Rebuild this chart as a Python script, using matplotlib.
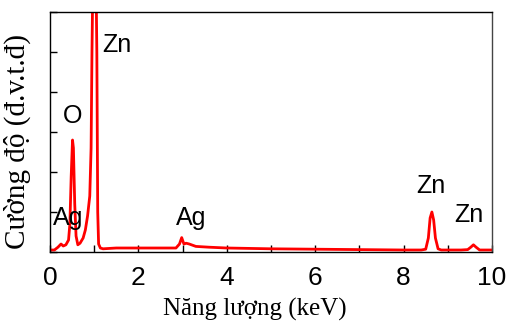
#! /usr/bin/env python3

from matplotlib import pyplot as plt
from matplotlib.ticker import MultipleLocator, NullFormatter

# EDX spectrum (energy in keV, intensity in arb. units)
energy = [0.0, 0.1, 0.18, 0.25, 0.3, 0.36, 0.42, 0.45, 0.48, 0.51, 0.53, 0.56,
          0.59, 0.63, 0.68, 0.75, 0.8, 0.85, 0.9, 0.93, 0.95, 0.97, 1.0, 1.04,
          1.06, 1.08, 1.1, 1.14, 1.2, 1.5, 2.0, 2.5, 2.85, 2.93, 2.98, 3.03,
          3.08, 3.15, 3.3, 3.6, 4.0, 5.0, 6.0, 7.0, 8.0, 8.4, 8.5, 8.56, 8.6,
          8.64, 8.68, 8.72, 8.78, 8.85, 9.0, 9.3, 9.45, 9.52, 9.58, 9.64,
          9.72, 9.85, 10.0]
intensity = [0.05, 0.05, 0.12, 0.2, 0.15, 0.18, 0.3, 0.7, 1.9, 2.8, 2.6, 1.2,
             0.4, 0.18, 0.22, 0.35, 0.55, 0.9, 1.4, 2.6, 5.0, 6.8, 8.0, 7.0,
             5.0, 1.0, 0.2, 0.1, 0.08, 0.1, 0.1, 0.1, 0.1, 0.2, 0.36, 0.2,
             0.22, 0.2, 0.14, 0.12, 0.1, 0.08, 0.07, 0.06, 0.05, 0.05, 0.07,
             0.35, 0.85, 1.0, 0.8, 0.35, 0.08, 0.05, 0.05, 0.05, 0.06, 0.12,
             0.18, 0.12, 0.05, 0.05, 0.05]

# element labels: text, x (keV), y (baseline)
peak_labels = ['Zn', 'O', 'Ag', 'Ag', 'Zn', 'Zn']
label_x = [1.18, 0.29, 0.07, 2.85, 8.28, 9.14]
label_y = [5.0, 3.22, 0.68, 0.68, 1.47, 0.75]

sans = 'Liberation Sans'
serif = 'Liberation Serif'

fig = plt.figure(figsize=(5.09, 3.23), dpi=100)
ax = fig.add_axes([0.0982, 0.2198, 0.8684, 0.743])

ax.plot(energy, intensity, color='#ff0000', lw=2)

for t, x, y in zip(peak_labels, label_x, label_y):
    ax.text(x, y, t, family=sans, fontsize=18, ha='left', va='baseline')

ax.set_xlim(0, 10)
ax.set_ylim(0, 6)

ax.xaxis.set_major_locator(MultipleLocator(1))
ax.xaxis.set_major_formatter(NullFormatter())
ax.yaxis.set_major_locator(MultipleLocator(1))
ax.yaxis.set_major_formatter(NullFormatter())
ax.tick_params(direction='in', length=5, width=1, top=False, right=False)

# labelled ticks at even values, drawn as text so the odd ticks stay bare
for v in range(0, 11, 2):
    ax.text(v, -0.36, str(v), family=sans, fontsize=19, ha='center', va='top')

for s in ax.spines.values():
    s.set_linewidth(1)
    s.set_color('black')
ax.spines['right'].set_color('#444444')

fig.text(0.5, 0.024, 'Năng lượng (keV)', family=serif, fontsize=18,
         ha='center', va='baseline')
fig.text(0.008, 0.563, 'Cường độ (đ.v.t.đ)', family=serif, fontsize=21,
         rotation=90, ha='left', va='center')

plt.savefig('out.png', dpi=100)
